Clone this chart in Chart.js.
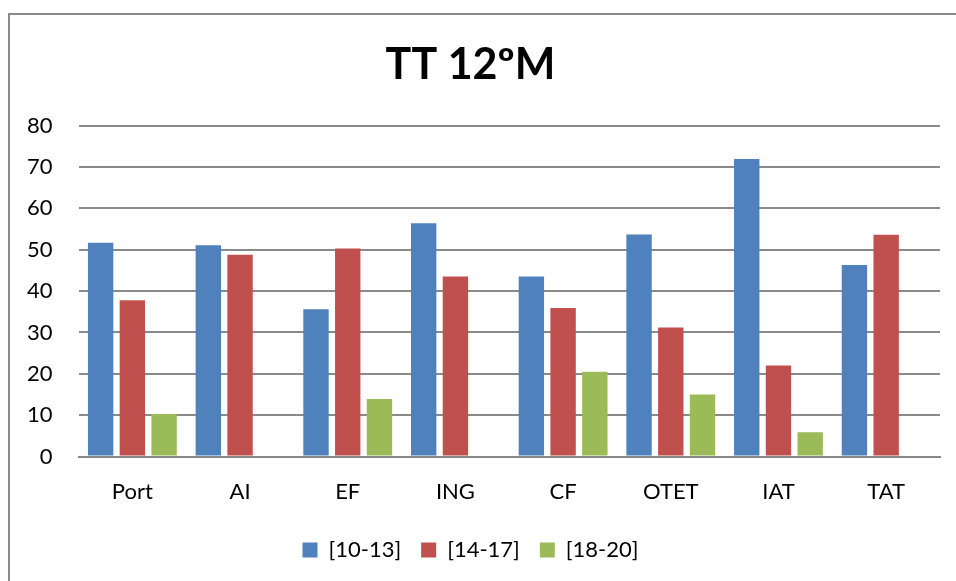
<!DOCTYPE html>
<html lang="pt">

<head>
    <meta charset="UTF-8">
    <title>TT 12ºM</title>
    <style>
        html, body {
            margin: 0;
            padding: 0;
            background: #fff;
        }

        .frame {
            position: absolute;
            left: 8px;
            top: 13px;
            width: 960px;
            height: 600px;
            border-top: 2px solid #8a8a8a;
            border-left: 2px solid #8a8a8a;
            pointer-events: none;
        }

        .chart-container {
            position: absolute;
            left: 0;
            top: 0;
            width: 956px;
            height: 581px;
        }
    </style>
</head>

<body>
    <div class="chart-container">
        <canvas id="ttChart"></canvas>
    </div>
    <div class="frame"></div>
    <script src="https://cdn.jsdelivr.net/npm/chart.js"></script>
    <script>
        // categorias e valores (%)
        const categories = ['Port', 'AI', 'EF', 'ING', 'CF', 'OTET', 'IAT', 'TAT'];
        const grupo10_13 = [51.7, 51.1, 35.6, 56.4, 43.5, 53.7, 71.9, 46.3];
        const grupo14_17 = [37.8, 48.8, 50.3, 43.5, 35.9, 31.2, 22.0, 53.6];
        const grupo18_20 = [10.3, null, 13.9, null, 20.5, 15.0, 5.9, null];
        const seriesLabels = ['[10-13]', '[14-17]', '[18-20]'];

        const fontFamily = 'Lato, "Open Sans", sans-serif';
        const gridColor = '#8a8a8a';

        const ctx = document.getElementById('ttChart');
        new Chart(ctx, {
            type: 'bar',
            data: {
                labels: categories,
                datasets: [{
                    label: seriesLabels[0],
                    data: grupo10_13,
                    backgroundColor: '#4F81BD'
                }, {
                    label: seriesLabels[1],
                    data: grupo14_17,
                    backgroundColor: '#C0504D'
                }, {
                    label: seriesLabels[2],
                    data: grupo18_20,
                    backgroundColor: '#9BBB59'
                }]
            },
            options: {
                responsive: true,
                maintainAspectRatio: false,
                animation: false,
                categoryPercentage: 0.884,
                barPercentage: 0.8,
                layout: {
                    padding: { left: 1, right: 16, top: 27, bottom: 10 }
                },
                plugins: {
                    title: {
                        display: true,
                        text: 'TT 12ºM',
                        color: '#000',
                        font: { family: fontFamily, size: 43, weight: 'bold' },
                        padding: { top: 12, bottom: 35 }
                    },
                    legend: {
                        position: 'bottom',
                        labels: {
                            color: '#000',
                            font: { family: fontFamily, size: 22 },
                            boxWidth: 15,
                            boxHeight: 15,
                            padding: 20
                        }
                    },
                    tooltip: { enabled: false }
                },
                scales: {
                    x: {
                        grid: { display: false },
                        border: { display: true, color: gridColor, width: 2 },
                        ticks: {
                            color: '#000',
                            font: { family: fontFamily, size: 22 },
                            padding: 14
                        }
                    },
                    y: {
                        min: 0,
                        max: 80,
                        ticks: {
                            stepSize: 10,
                            color: '#000',
                            font: { family: fontFamily, size: 22 },
                            padding: 26
                        },
                        grid: {
                            color: gridColor,
                            lineWidth: 2,
                            drawTicks: false
                        },
                        border: { display: false }
                    }
                }
            }
        });
    </script>
</body>

</html>
